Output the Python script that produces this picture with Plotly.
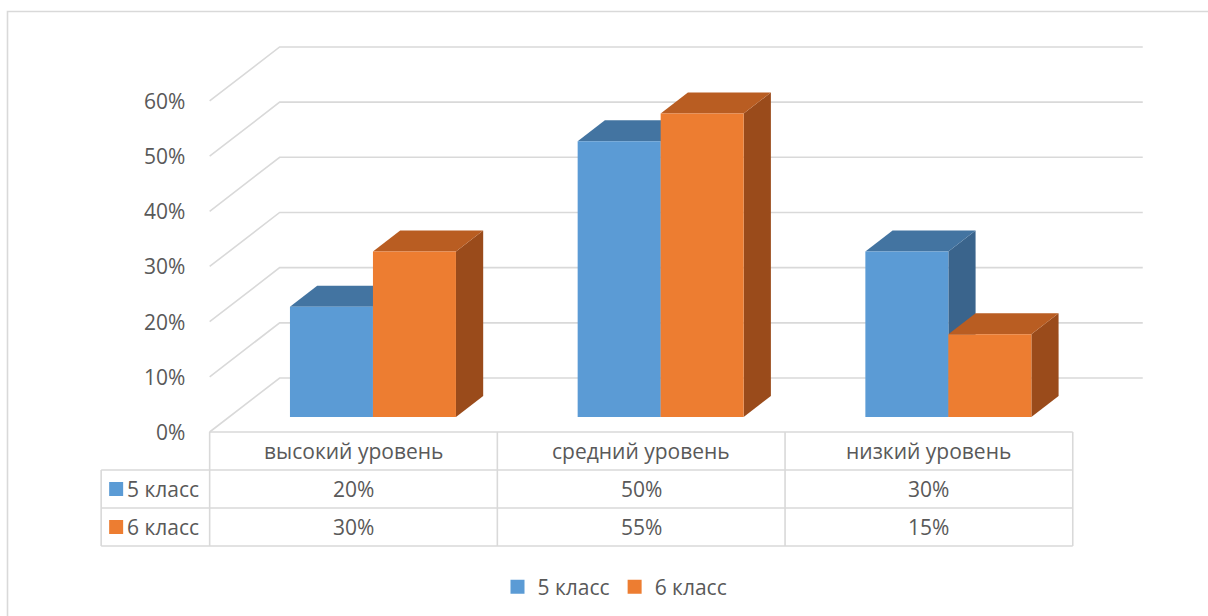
import plotly.graph_objects as go

# ---------------- data ----------------
categories = ["высокий уровень", "средний уровень", "низкий уровень"]
series_names = ["5 класс", "6 класс"]
values_5 = [20, 50, 30]
values_6 = [30, 55, 15]
tick_values = [0, 10, 20, 30, 40, 50, 60]
tick_labels = ["0%", "10%", "20%", "30%", "40%", "50%", "60%"]

# ---------------- style / geometry ----------------
W, H = 1208, 616
CAT_PX = 287.7        # pixels per category on the front plane
PCT_PX = 5.517        # pixels per percent
X0_PX, Y0_PX = 353.5, 432   # pixel of category 0 / 0 % on the front plane
DEPTH_DX, DEPTH_DY = 70, 54  # full depth of the 3-D box in pixels
DC = DEPTH_DX / CAT_PX
DV = DEPTH_DY / PCT_PX
BAR_W = 83 / CAT_PX
D_FRONT, D_BACK = 0.278, 0.667
ROW_H = 38 / PCT_PX
LABEL_COL_W = 108.5 / CAT_PX
FONT = "Open Sans"
FS = 21
TXT = "#595959"
GRID = "#D9D9D9"
fronts = ["#5B9BD5", "#ED7D31"]
tops = ["#4374A1", "#B95D22"]
sides = ["#3A648C", "#9A4B1B"]


def proj(c, v, d):
    return c + DC * d, v + DV * d


fig = go.Figure()

# perspective gridlines (side wall + back wall)
n_cat = len(categories)
for v in tick_values:
    xa, ya = proj(-0.5, v, 0)
    xb, yb = proj(-0.5, v, 1)
    xc, yc = proj(n_cat - 0.5, v, 1)
    fig.add_trace(go.Scatter(x=[xa, xb, xc], y=[ya, yb, yc], mode="lines",
                             line=dict(color=GRID, width=1.6), hoverinfo="skip",
                             showlegend=False))

# 3-D bars
series_vals = [values_5, values_6]
for i in range(n_cat):
    for s, vals in enumerate(series_vals):
        val = vals[i]
        c0 = i - BAR_W + s * BAR_W
        c1 = c0 + BAR_W
        side = [proj(c1, 0, D_FRONT), proj(c1, val, D_FRONT),
                proj(c1, val, D_BACK), proj(c1, 0, D_BACK)]
        top = [proj(c0, val, D_FRONT), proj(c1, val, D_FRONT),
               proj(c1, val, D_BACK), proj(c0, val, D_BACK)]
        front = [proj(c0, 0, D_FRONT), proj(c1, 0, D_FRONT),
                 proj(c1, val, D_FRONT), proj(c0, val, D_FRONT)]
        for poly, col in ((side, sides[s]), (top, tops[s]), (front, fronts[s])):
            fig.add_trace(go.Scatter(
                x=[p[0] for p in poly] + [poly[0][0]],
                y=[p[1] for p in poly] + [poly[0][1]],
                mode="lines", fill="toself", fillcolor=col,
                line=dict(width=0, color=col), hoverinfo="skip",
                showlegend=False))

# legend entries
for s, name in enumerate(series_names):
    fig.add_trace(go.Scatter(x=[None], y=[None], mode="markers", name=name,
                             marker=dict(symbol="square", size=14, color=fronts[s])))

# y tick labels on the front plane
annotations = []
for v, lab in zip(tick_values, tick_labels):
    annotations.append(dict(x=-0.5, y=v, xref="x", yref="y", text=lab,
                            showarrow=False, xanchor="right", yanchor="middle",
                            xshift=-23, font=dict(family=FONT, size=FS, color=TXT)))

# data table
shapes = []
left = -0.5 - LABEL_COL_W
right = n_cat - 0.5
line_style = dict(color=GRID, width=1.6)
shapes.append(dict(type="line", xref="x", yref="y", x0=-0.5, x1=right,
                   y0=0, y1=0, line=line_style))
for r in range(1, 4):
    shapes.append(dict(type="line", xref="x", yref="y", x0=left, x1=right,
                       y0=-r * ROW_H, y1=-r * ROW_H, line=line_style))
for k in range(n_cat + 1):
    shapes.append(dict(type="line", xref="x", yref="y", x0=k - 0.5, x1=k - 0.5,
                       y0=0, y1=-3 * ROW_H, line=line_style))
shapes.append(dict(type="line", xref="x", yref="y", x0=left, x1=left,
                   y0=-ROW_H, y1=-3 * ROW_H, line=line_style))

for i, cat in enumerate(categories):
    annotations.append(dict(x=i, y=-0.5 * ROW_H, xref="x", yref="y", text=cat,
                            showarrow=False, font=dict(family=FONT, size=FS, color=TXT)))
    for s, vals in enumerate(series_vals):
        annotations.append(dict(x=i, y=-(1.5 + s) * ROW_H, xref="x", yref="y",
                                text=f"{vals[i]}%", showarrow=False,
                                font=dict(family=FONT, size=FS, color=TXT)))

SQ = 14 / CAT_PX
SQ_V = 14 / PCT_PX
for s, name in enumerate(series_names):
    yc = -(1.5 + s) * ROW_H
    x0 = left + 8 / CAT_PX
    shapes.append(dict(type="rect", xref="x", yref="y", x0=x0, x1=x0 + SQ,
                       y0=yc - SQ_V / 2, y1=yc + SQ_V / 2,
                       fillcolor=fronts[s], line=dict(width=0)))
    annotations.append(dict(x=x0 + SQ, y=yc, xref="x", yref="y", text=name,
                            showarrow=False, xanchor="left", xshift=2,
                            font=dict(family=FONT, size=FS, color=TXT)))

# outer chart border
shapes.append(dict(type="rect", xref="paper", yref="paper",
                   x0=7.5 / W, x1=1.05, y0=-0.05, y1=1 - 11.5 / H,
                   line=dict(color=GRID, width=1.6)))

fig.update_layout(
    width=W, height=H,
    margin=dict(l=0, r=0, t=0, b=0),
    paper_bgcolor="white", plot_bgcolor="white",
    xaxis=dict(range=[-X0_PX / CAT_PX, (W - X0_PX) / CAT_PX], visible=False,
               fixedrange=True),
    yaxis=dict(range=[(Y0_PX - H) / PCT_PX, Y0_PX / PCT_PX], visible=False,
               fixedrange=True),
    shapes=shapes, annotations=annotations,
    showlegend=True,
    legend=dict(orientation="h", x=0.5 + 11 / W, xanchor="center", y=1 - 587 / H,
                yanchor="middle", font=dict(family=FONT, size=FS, color=TXT),
                bgcolor="rgba(0,0,0,0)", itemwidth=30),
)

fig.write_html("out.html")
